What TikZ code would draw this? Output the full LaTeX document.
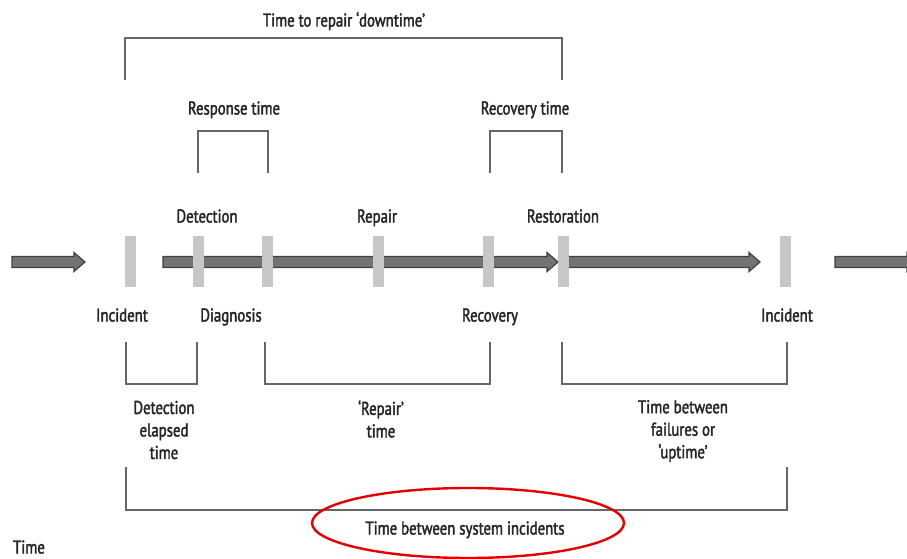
\documentclass[tikz,border=0pt]{standalone}
\usepackage{fontspec}
\setmainfont{PT Sans}[FakeStretch=0.8, FakeBold=2]
\begin{document}
\begin{tikzpicture}[x=1pt,y=-1pt,
  lblm/.style={text=black!85, font=\fontsize{18.5}{22.5}\selectfont, inner sep=0pt, align=center},
  lbl/.style={lblm, text height=13pt, text depth=4pt},
  tick/.style={fill=black!22, draw=none, minimum width=11pt, minimum height=51pt, inner sep=0pt},
  bracket/.style={draw=black!60, line width=2.6pt, line join=miter},
  blockarrow/.style={fill=black!55, draw=black!75, line width=1.2pt, line join=miter},
  ring/.style={draw=red!90!black, line width=2.4pt}]
\useasboundingbox[fill=white] (0,0) rectangle (907,559);

% block arrows along the time line: \tlarrow{start}{tip}
\newcommand{\tlarrow}[2]{%
  \draw[blockarrow] (#1,256.5) -- (#2-11,256.5) -- (#2-11,252.5) -- (#2,262) --
    (#2-11,271.5) -- (#2-11,267.5) -- (#1,267.5) -- cycle;}
\tlarrow{12}{85}
\tlarrow{163}{558}
\tlarrow{567}{760}
\tlarrow{835}{918}

% event marks on the time line
\node[tick] (inc1) at (130,261) {};
\node[tick] (det)  at (198,261) {};
\node[tick] (diag) at (267,261) {};
\node[tick] (rep)  at (378,261) {};
\node[tick] (rec)  at (488,261) {};
\node[tick] (rest) at (563,261) {};
\node[tick] (inc2) at (785,261) {};

% event names
\node[lbl] (tdet)  at (207,218) {Detection};
\node[lbl] (trep)  at (377,218) {Repair};
\node[lbl] (trest) at (563,218) {Restoration};
\node[lbl] (tinc1) at (122,317) {Incident};
\node[lbl] (tdiag) at (231,317) {Diagnosis};
\node[lbl] (trec)  at (490,317) {Recovery};
\node[lbl] (tinc2) at (787,317) {Incident};

% intervals above the line
\coordinate (a1) at (125,80);  \coordinate (a2) at (562,80);
\draw[bracket] (a1) -- (125,38) -- (562,38) -- (a2);
\node[lbl] (ttr) at (344,22) {Time to repair ‘downtime’};

\coordinate (b1) at (198,173); \coordinate (b2) at (268,173);
\draw[bracket] (b1) -- (198,131) -- (268,131) -- (b2);
\node[lbl] (tresp) at (234,110) {Response time};

\coordinate (c1) at (490,173); \coordinate (c2) at (562,173);
\draw[bracket] (c1) -- (490,131) -- (562,131) -- (c2);
\node[lbl] (trect) at (525,110) {Recovery time};

% intervals below the line
\coordinate (d1) at (126,342); \coordinate (d2) at (197,342);
\draw[bracket] (d1) -- (126,384) -- (197,384) -- (d2);
\node[lblm] (tdel) at (164,430) {Detection\\elapsed\\time};

\coordinate (e1) at (265,342); \coordinate (e2) at (490,342);
\draw[bracket] (e1) -- (265,384) -- (490,384) -- (e2);
\node[lblm] (trt) at (381,419) {‘Repair’\\time};

\coordinate (f1) at (562,342); \coordinate (f2) at (787,342);
\draw[bracket] (f1) -- (562,384) -- (787,384) -- (f2);
\node[lblm] (tup) at (683,431) {Time between\\failures or\\‘uptime’};

\coordinate (g1) at (126,467); \coordinate (g2) at (787,467);
\draw[bracket] (g1) -- (126,510) -- (787,510) -- (g2);
\node[lbl] (tsys) at (465,530) {Time between system incidents};
\draw[ring] (468,523) ellipse [x radius=156pt, y radius=35pt];

\node[lbl] (time) at (29,549) {Time};
\end{tikzpicture}
\end{document}
